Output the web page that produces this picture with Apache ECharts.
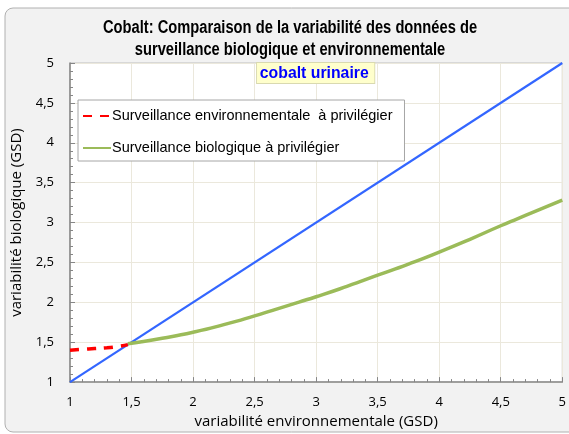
<!DOCTYPE html>
<html>
<head>
<meta charset="utf-8">
<script src="https://cdn.jsdelivr.net/npm/echarts@6/dist/echarts.min.js"></script>
<style>
  html, body { margin: 0; padding: 0; background: #ffffff; }
  #chartmain { width: 569px; height: 434px; }
</style>
</head>
<body>
<div id="chartmain"></div>
<script>
// données
var diagX = [1, 5];
var diagY = [1, 5];

var envX = [1, 1.1, 1.2, 1.3, 1.4, 1.47];
var envY = [1.40, 1.41, 1.42, 1.43, 1.45, 1.47];

var bioX = [1.47, 1.75, 2, 2.25, 2.5, 2.75, 3, 3.25, 3.5, 3.75, 4, 4.25, 4.5, 4.75, 5];
var bioY = [1.48, 1.55, 1.625, 1.72, 1.83, 1.95, 2.07, 2.2, 2.34, 2.48, 2.63, 2.79, 2.96, 3.12, 3.28];

var titre = 'Cobalt: Comparaison de la variabilité des données de\nsurveillance biologique et environnementale';
var nomEnv = 'Surveillance environnementale  à privilégier';
var nomBio = 'Surveillance biologique à privilégier';

function paires(xs, ys) {
  var out = [];
  for (var i = 0; i < xs.length; i++) {
    out.push([xs[i], ys[i]]);
  }
  return out;
}

function virgule(v) {
  return String(v).replace('.', ',');
}

var myChart = echarts.init(document.getElementById('chartmain'));

var option = {
  backgroundColor: '#ffffff',
  animation: false,
  graphic: [
    {
      type: 'rect',
      z: -10,
      shape: { x: 5, y: 8, width: 620, height: 424, r: 8 },
      style: { fill: '#f2f2f2', stroke: '#b0b0b0', lineWidth: 1 }
    },
    {
      // titre en police étroite (simulée)
      type: 'text',
      x: 290,
      y: 17,
      scaleX: 0.84,
      z: 10,
      style: {
        text: titre,
        font: 'bold 17.5px "Liberation Sans", Arial',
        lineHeight: 22,
        textAlign: 'center',
        fill: '#000000'
      }
    },
    {
      type: 'text',
      x: 257,
      y: 63,
      scaleX: 0.93,
      z: 10,
      style: {
        text: 'cobalt urinaire',
        font: 'bold 17px "Liberation Sans", Arial',
        fill: '#0000ff',
        backgroundColor: '#ffffcc',
        borderColor: '#d9d9b0',
        borderWidth: 1,
        padding: [2, 6, 1, 3]
      }
    }
  ],
  legend: {
    orient: 'vertical',
    left: 78,
    top: 100,
    width: 326,
    backgroundColor: '#ffffff',
    borderColor: '#a6a6a6',
    borderWidth: 1,
    borderRadius: 0,
    padding: [7, 12, 4, 4],
    itemGap: 14,
    itemWidth: 28,
    itemHeight: 12,
    itemStyle: { color: 'transparent', borderWidth: 0, opacity: 0 },
    data: [nomEnv, nomBio],
    textStyle: {
      fontFamily: '"Liberation Sans", Arial',
      fontSize: 14.5,
      lineHeight: 18,
      color: '#000000',
      padding: [0, 0, 0, -4]
    }
  },
  grid: {
    left: 70,
    right: 4,
    top: 63,
    bottom: 51,
    show: true,
    backgroundColor: '#ffffff',
    borderColor: '#bfbfbf',
    borderWidth: 1
  },
  xAxis: {
    type: 'value',
    min: 1,
    max: 5,
    interval: 0.5,
    name: 'variabilité environnementale (GSD)',
    nameLocation: 'middle',
    nameGap: 30,
    nameTextStyle: { fontFamily: '"Open Sans", "DejaVu Sans"', fontSize: 15, color: '#000000' },
    axisLine: { lineStyle: { color: '#868686', width: 1.5 } },
    axisTick: { inside: true, length: 5, lineStyle: { color: '#868686' } },
    minorTick: { show: true, splitNumber: 5, length: 3, lineStyle: { color: '#868686' } },
    axisLabel: {
      margin: 14,
      fontFamily: '"Open Sans", "DejaVu Sans"',
      fontSize: 13,
      color: '#000000',
      formatter: virgule
    },
    splitLine: { show: true, lineStyle: { color: '#ebe8dc', width: 1 } }
  },
  yAxis: {
    type: 'value',
    min: 1,
    max: 5,
    interval: 0.5,
    name: 'variabilité biologique (GSD)',
    nameLocation: 'middle',
    nameGap: 46,
    nameTextStyle: { fontFamily: '"Open Sans", "DejaVu Sans"', fontSize: 15, color: '#000000' },
    axisLine: { show: true, lineStyle: { color: '#868686', width: 1.5 } },
    axisTick: { show: true, inside: true, length: 5, lineStyle: { color: '#868686' } },
    minorTick: { show: true, splitNumber: 5, length: 3, lineStyle: { color: '#868686' } },
    axisLabel: {
      margin: 16,
      fontFamily: '"Open Sans", "DejaVu Sans"',
      fontSize: 13,
      color: '#000000',
      formatter: virgule
    },
    splitLine: { show: true, lineStyle: { color: '#ebe8dc', width: 1 } }
  },
  series: [
    {
      name: 'diagonale',
      type: 'line',
      data: paires(diagX, diagY),
      showSymbol: false,
      symbol: 'none',
      lineStyle: { color: '#3366ff', width: 2.2 },
      z: 3
    },
    {
      name: nomEnv,
      type: 'line',
      data: paires(envX, envY),
      smooth: true,
      showSymbol: false,
      symbol: 'none',
      itemStyle: { color: '#ff0000' },
      lineStyle: { color: '#ff0000', width: 3.5, type: [9, 8] },
      z: 4
    },
    {
      name: nomBio,
      type: 'line',
      data: paires(bioX, bioY),
      smooth: 0.6,
      showSymbol: false,
      symbol: 'none',
      itemStyle: { color: '#9bbb59' },
      lineStyle: { color: '#9bbb59', width: 3.5 },
      z: 4
    }
  ]
};

myChart.setOption(option);
</script>
</body>
</html>
